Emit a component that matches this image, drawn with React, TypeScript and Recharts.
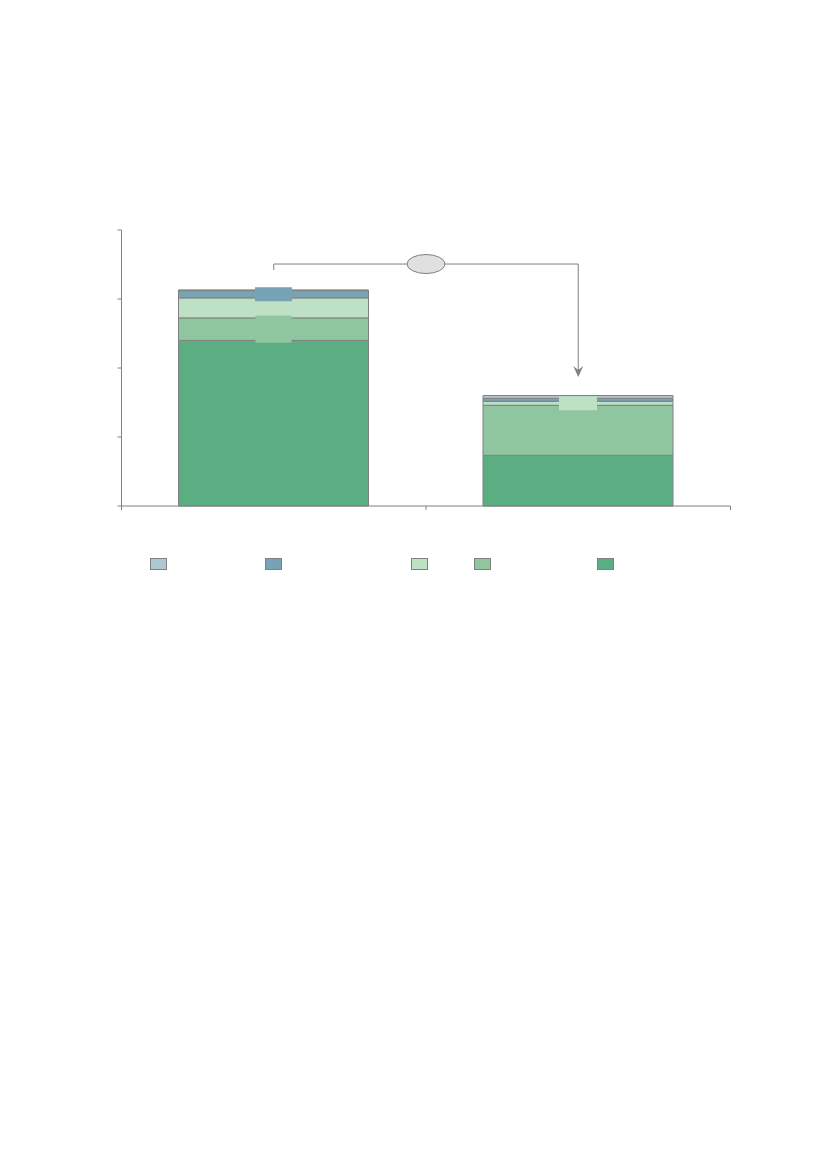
import React from 'react';
import { BarChart, Bar, XAxis, YAxis, ReferenceLine, ReferenceDot, LabelList } from 'recharts';

const categories = ['Scenario 1', 'Scenario 2'];
const seriesNames = ['Series 1', 'Series 2', 'Series 3', 'Series 4', 'Series 5'];
const darkGreen = [2.4, 0.735];
const midGreen = [0.326, 0.725];
const lightGreen = [0.29, 0.058];
const blue = [0.106, 0.043];
const lightBlue = [0.01, 0.04];
const yTicks = [0, 1, 2, 3, 4];
const xTicks = [0, 1, 2];
const bracketStart = 3.42;
const bracketLevel = 3.507;
const arrowTip = 1.87;

const COLORS = {
  darkGreen: '#5bae82',
  midGreen: '#8fc69f',
  lightGreen: '#bee0c4',
  blue: '#78a3b4',
  lightBlue: '#aec8d2',
};
const GRAY = '#808080';

// each category occupies one unit band; bars sit at the band centre
const data = categories.map((name, i) => ({
  name,
  pos: i + 0.5,
  darkGreen: darkGreen[i],
  midGreen: midGreen[i],
  lightGreen: lightGreen[i],
  blue: blue[i],
  lightBlue: lightBlue[i],
}));

// label boxes (background only) shown per series/index
const labelBoxes: Record<string, Record<number, [number, number]>> = {
  blue: { 0: [37, 14] },
  midGreen: { 0: [36, 27] },
  lightGreen: { 1: [38, 14] },
};

const makeLabel = (key: string) => (props: any) => {
  const spec = labelBoxes[key] && labelBoxes[key][props.index];
  if (!spec) return null;
  const vb = props.viewBox || {};
  const x = props.x ?? vb.x;
  const y = props.y ?? vb.y;
  const w = props.width ?? vb.width;
  const h = props.height ?? vb.height;
  const cx = x + w / 2;
  const cy = y + h / 2;
  return (
    <rect
      x={cx - spec[0] / 2}
      y={cy - spec[1] / 2}
      width={spec[0]}
      height={spec[1]}
      fill={(COLORS as any)[key]}
      stroke="none"
    />
  );
};

const stackOrder = ['darkGreen', 'midGreen', 'lightGreen', 'blue', 'lightBlue'];
const legendOrder = ['lightBlue', 'blue', 'lightGreen', 'midGreen', 'darkGreen'];
const legendGaps = [0, 98, 129, 46, 106];

const Ellipse = (props: any) => (
  <ellipse cx={props.cx} cy={props.cy} rx={19} ry={9.5} fill="#e0e0e0" stroke={GRAY} strokeWidth={1} />
);

const Arrow = (props: any) => {
  const { cx, cy } = props;
  return (
    <path
      d={`M${cx},${cy} L${cx - 5},${cy - 11} L${cx},${cy - 7} L${cx + 5},${cy - 11} Z`}
      fill={GRAY}
      stroke="none"
    />
  );
};

const NoTick = () => <g />;

export default function App() {
  return (
    <div style={{ position: 'relative', width: 811, height: 1150 }}>
      <BarChart
        width={811}
        height={540}
        data={data}
        margin={{ top: 222, right: 88.5, left: 103.5, bottom: 12 }}
        barSize={190}
      >
        <XAxis
          dataKey="pos"
          type="number"
          domain={[0, 2]}
          ticks={xTicks}
          tick={NoTick}
          tickSize={4}
          stroke={GRAY}
          height={30}
          allowDataOverflow
        />
        <YAxis
          domain={[0, 4]}
          ticks={yTicks}
          tick={NoTick}
          tickSize={4}
          stroke={GRAY}
          width={10}
        />
        {stackOrder.map((key, i) => (
          <Bar
            key={key}
            dataKey={key}
            name={seriesNames[i]}
            stackId="s"
            fill={(COLORS as any)[key]}
            stroke={GRAY}
            strokeWidth={1}
            isAnimationActive={false}
          >
            <LabelList dataKey={key} content={makeLabel(key)} />
          </Bar>
        ))}
        <ReferenceLine
          segment={[{ x: 0.5, y: bracketStart }, { x: 0.5, y: bracketLevel }]}
          stroke={GRAY}
          strokeWidth={1}
        />
        <ReferenceLine
          segment={[{ x: 0.5, y: bracketLevel }, { x: 1.5, y: bracketLevel }]}
          stroke={GRAY}
          strokeWidth={1}
        />
        <ReferenceLine
          segment={[{ x: 1.5, y: bracketLevel }, { x: 1.5, y: arrowTip + 0.1 }]}
          stroke={GRAY}
          strokeWidth={1}
        />
        <ReferenceDot x={1.5} y={arrowTip} shape={Arrow} />
        <ReferenceDot x={1} y={bracketLevel} shape={Ellipse} />
      </BarChart>
      <div style={{ position: 'absolute', top: 550, left: 142, display: 'flex' }}>
        {legendOrder.map((key, i) => (
          <div
            key={key}
            style={{
              width: 15,
              height: 10,
              marginLeft: legendGaps[i],
              background: (COLORS as any)[key],
              border: `1px solid ${GRAY}`,
            }}
          />
        ))}
      </div>
    </div>
  );
}
